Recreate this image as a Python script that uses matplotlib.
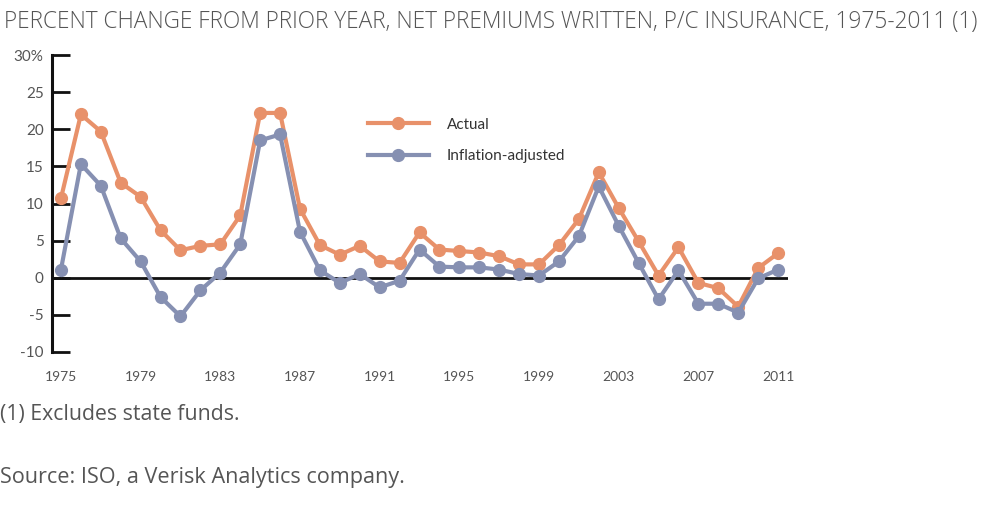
import matplotlib.pyplot as plt
import matplotlib.ticker as mticker

years = list(range(1975, 2012))
actual = [10.7, 22.0, 19.7, 12.8, 10.9, 6.4, 3.7, 4.3, 4.5, 8.4,
          22.2, 22.2, 9.3, 4.4, 3.1, 4.3, 2.2, 2.0, 6.1, 3.8,
          3.6, 3.4, 2.9, 1.8, 1.8, 4.4, 7.9, 14.2, 9.4, 4.9,
          0.3, 4.1, -0.7, -1.4, -3.9, 1.3, 3.3]
inflation_adj = [1.1, 15.3, 12.4, 5.3, 2.2, -2.6, -5.2, -1.7, 0.7, 4.5,
                 18.5, 19.3, 6.2, 1.0, -0.7, 0.5, -1.3, -0.4, 3.8, 1.5,
                 1.4, 1.4, 1.1, 0.5, 0.3, 2.2, 5.6, 12.3, 7.0, 2.0,
                 -2.9, 1.0, -3.5, -3.5, -4.7, -0.1, 1.1]
xtick_years = list(range(1975, 2012, 4))
yticks = [-10, -5, 0, 5, 10, 15, 20, 25, 30]
ytick_labels = ['-10', '-5', '0', '5', '10', '15', '20', '25', '30%']

title = 'PERCENT CHANGE FROM PRIOR YEAR, NET PREMIUMS WRITTEN, P/C INSURANCE, 1975-2011 (1)'
note = '(1) Excludes state funds.'
source = 'Source: ISO, a Verisk Analytics company.'

orange = '#E8916A'
blue = '#8690B2'

fig = plt.figure(figsize=(10, 5.05), dpi=100)
ax = fig.add_axes([0.052, 0.303, 0.736, 0.588])

ax.plot(years, actual, color=orange, lw=3, marker='o', ms=8.5, label='Actual', zorder=3)
ax.plot(years, inflation_adj, color=blue, lw=3, marker='o', ms=8.5, label='Inflation-adjusted', zorder=3)
ax.axhline(0, color='#111111', lw=2, zorder=2)

ax.set_xlim(1974.55, 2011.5)
ax.set_ylim(-10, 30)
ax.set_yticks(yticks)
ax.set_yticklabels(ytick_labels)
ax.set_xticks(xtick_years)
ax.set_xticklabels([str(y) for y in xtick_years])

for s in ['top', 'right', 'bottom']:
    ax.spines[s].set_visible(False)
ax.spines['left'].set_linewidth(2.2)
ax.spines['left'].set_color('#111111')
ax.tick_params(axis='y', direction='in', length=13, width=2, color='#111111',
               labelsize=11, labelcolor='#555555', pad=6)
ax.tick_params(axis='x', length=0, labelsize=10, labelcolor='#555555', pad=14)
for lab in ax.get_yticklabels() + ax.get_xticklabels():
    lab.set_family('Lato')

leg = ax.legend(loc='upper left', bbox_to_anchor=(0.41, 0.835), frameon=False,
                handlelength=4, fontsize=11, labelspacing=1.15, handletextpad=1.2)
for t in leg.get_texts():
    t.set_color('#333333')
    t.set_family('Lato')

fig.text(0.004, 0.956, title, fontsize=16.3, color='#555555', family='Open Sans',
         weight='light', va='center')
fig.text(0.0, 0.18, note, fontsize=15.3, color='#555555', family='Open Sans', va='center')
fig.text(0.0, 0.055, source, fontsize=15.6, color='#555555', family='Open Sans', va='center')

fig.savefig('out.png', dpi=100)
